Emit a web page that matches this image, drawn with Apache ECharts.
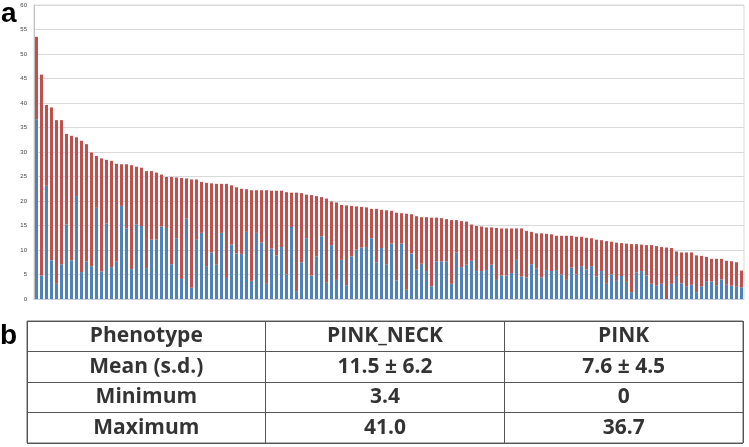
<!DOCTYPE html>
<html>
<head>
<meta charset="utf-8">
<script src="https://cdn.jsdelivr.net/npm/echarts@6/dist/echarts.min.js"></script>
<style>
html,body{margin:0;padding:0;background:#fff;}
#chart{width:749px;height:447px;}
</style>
</head>
<body>
<div id="chart"></div>
<script>
// PINK (blue, bottom segment) per individual, sorted by total descending
const pink = [36.7,4.8,23.1,7.9,3.1,7.1,15.2,7.9,21.0,5.5,
7.7,6.7,18.6,5.6,15.4,6.5,7.6,19.0,14.4,6.1,
15.2,14.9,6.3,12.1,12.1,14.8,14.5,7.1,12.4,4.1,
16.4,2.3,12.1,13.5,6.7,9.5,7.0,13.5,4.3,11.1,
9.3,9.2,13.7,3.7,13.5,11.5,3.1,10.3,8.9,10.6,
5.0,14.7,1.6,7.5,12.4,4.8,8.7,12.8,3.3,11.0,
3.9,8.0,2.8,8.7,10.1,10.5,10.6,12.4,7.5,10.4,
7.1,11.3,3.8,11.3,1.9,9.3,6.0,7.2,5.7,2.6,
7.7,7.7,7.7,3.1,9.5,6.5,7.0,7.8,5.7,5.7,
5.9,7.0,3.9,4.8,4.8,5.3,8.0,4.6,4.4,7.1,
6.2,4.4,5.9,5.7,5.9,5.0,3.9,6.4,5.0,6.7,
6.0,6.7,4.6,5.7,3.1,5.0,3.7,4.7,3.5,1.4,
5.4,5.7,4.8,3.1,2.7,3.1,0,3.1,4.7,3.2,
2.6,2.9,1.4,2.6,3.5,3.6,2.8,4.0,2.9,2.7,
2.5,2.4];

// PINK_NECK (red, top segment)
const pinkNeck = [16.8,41.0,16.5,31.2,33.4,29.4,18.5,25.4,12.0,26.8,
23.9,23.2,10.6,23.1,13.0,21.7,20.0,8.5,13.1,21.2,
11.8,11.9,19.8,14.0,13.7,10.6,10.4,17.8,12.4,20.6,
8.2,22.1,12.3,10.4,17.0,14.1,16.5,10.0,19.2,12.1,
13.5,13.3,8.7,18.5,8.7,10.7,19.1,11.8,13.2,11.5,
16.8,7.0,20.1,14.1,8.9,16.4,12.3,8.0,17.2,8.9,
15.8,11.2,16.3,10.3,8.8,8.3,8.1,6.0,10.9,7.8,
11.0,6.7,13.8,6.2,15.5,8.0,10.9,9.5,11.0,14.0,
8.9,8.8,8.6,13.0,6.6,9.4,8.8,7.4,9.2,9.1,
8.7,7.6,10.6,9.6,9.6,9.1,6.4,9.8,9.5,6.6,
7.2,9.0,7.4,7.5,7.0,7.9,9.0,6.5,7.7,6.0,
6.5,5.7,7.5,6.3,8.7,6.7,7.8,6.7,7.8,9.8,
5.8,5.4,6.2,7.9,8.1,7.5,10.5,7.3,5.0,6.3,
6.9,6.6,7.5,6.2,5.1,4.6,5.4,4.2,4.9,5.0,
5.0,3.4];

const individuals = pink.map((_, i) => String(i + 1));

// Table (panel b)
const tableHeader = ['Phenotype', 'PINK_NECK', 'PINK'];
const rowMean = ['Mean (s.d.)', '11.5 \u00b1 6.2', '7.6 \u00b1 4.5'];
const rowMin = ['Minimum', '3.4', '0'];
const rowMax = ['Maximum', '41.0', '36.7'];
const tableRows = [tableHeader, rowMean, rowMin, rowMax];
const rowKeys = ['h', 'mean', 'min', 'max'];

const cellData = [];
tableRows.forEach((row, r) => row.forEach((txt, c) => cellData.push([c, r, txt])));

const chart = echarts.init(document.getElementById('chart'), null, {renderer: 'canvas'});
const option = {
  animation: false,
  backgroundColor: '#ffffff',
  graphic: [
    {type: 'text', x: 1, y: 14, style: {text: 'a', font: 'bold 28px "Liberation Sans"', fill: '#000', verticalAlign: 'middle'}},
    {type: 'text', x: 0, y: 336, style: {text: 'b', font: 'bold 28px "Liberation Sans"', fill: '#000', verticalAlign: 'middle'}}
  ],
  grid: [
    {left: 34, right: 5, top: 5, bottom: 148, show: true, borderColor: '#d9d9d9', borderWidth: 1},
    {left: 27, right: 6, top: 321, bottom: 4, show: true, borderColor: '#666', borderWidth: 1}
  ],
  xAxis: [
    {type: 'category', gridIndex: 0, data: individuals,
     axisLine: {show: true, lineStyle: {color: '#c8cdd6'}}, axisTick: {show: false}, axisLabel: {show: false}},
    {type: 'category', gridIndex: 1, data: tableHeader,
     axisLine: {show: false}, axisTick: {show: false}, axisLabel: {show: false},
     splitLine: {show: true, lineStyle: {color: '#555', width: 1}}}
  ],
  yAxis: [
    {type: 'value', gridIndex: 0, min: 0, max: 60, interval: 5,
     axisLine: {show: true, lineStyle: {color: '#c0c0c0'}}, axisTick: {show: false},
     axisLabel: {fontSize: 6, color: '#444', margin: 7, fontFamily: 'Liberation Sans'},
     splitLine: {lineStyle: {color: '#d9d9d9', width: 1}}},
    {type: 'category', gridIndex: 1, data: rowKeys, inverse: true,
     axisLine: {show: false}, axisTick: {show: false}, axisLabel: {show: false},
     splitLine: {show: true, lineStyle: {color: '#555', width: 1}}}
  ],
  series: [
    {name: 'PINK', type: 'bar', stack: 'tot', xAxisIndex: 0, yAxisIndex: 0, data: pink,
     barWidth: 3, itemStyle: {color: '#4f81bd'}},
    {name: 'PINK_NECK', type: 'bar', stack: 'tot', xAxisIndex: 0, yAxisIndex: 0, data: pinkNeck,
     barWidth: 3, itemStyle: {color: '#c0504d'}},
    {name: 'table', type: 'scatter', xAxisIndex: 1, yAxisIndex: 1, data: cellData,
     symbolSize: 0, silent: true,
     label: {show: true, position: 'inside', formatter: p => p.value[2],
             fontFamily: '"Open Sans"', fontWeight: 'bold', fontSize: 21, color: '#000'}}
  ]
};
chart.setOption(option);
</script>
</body>
</html>
